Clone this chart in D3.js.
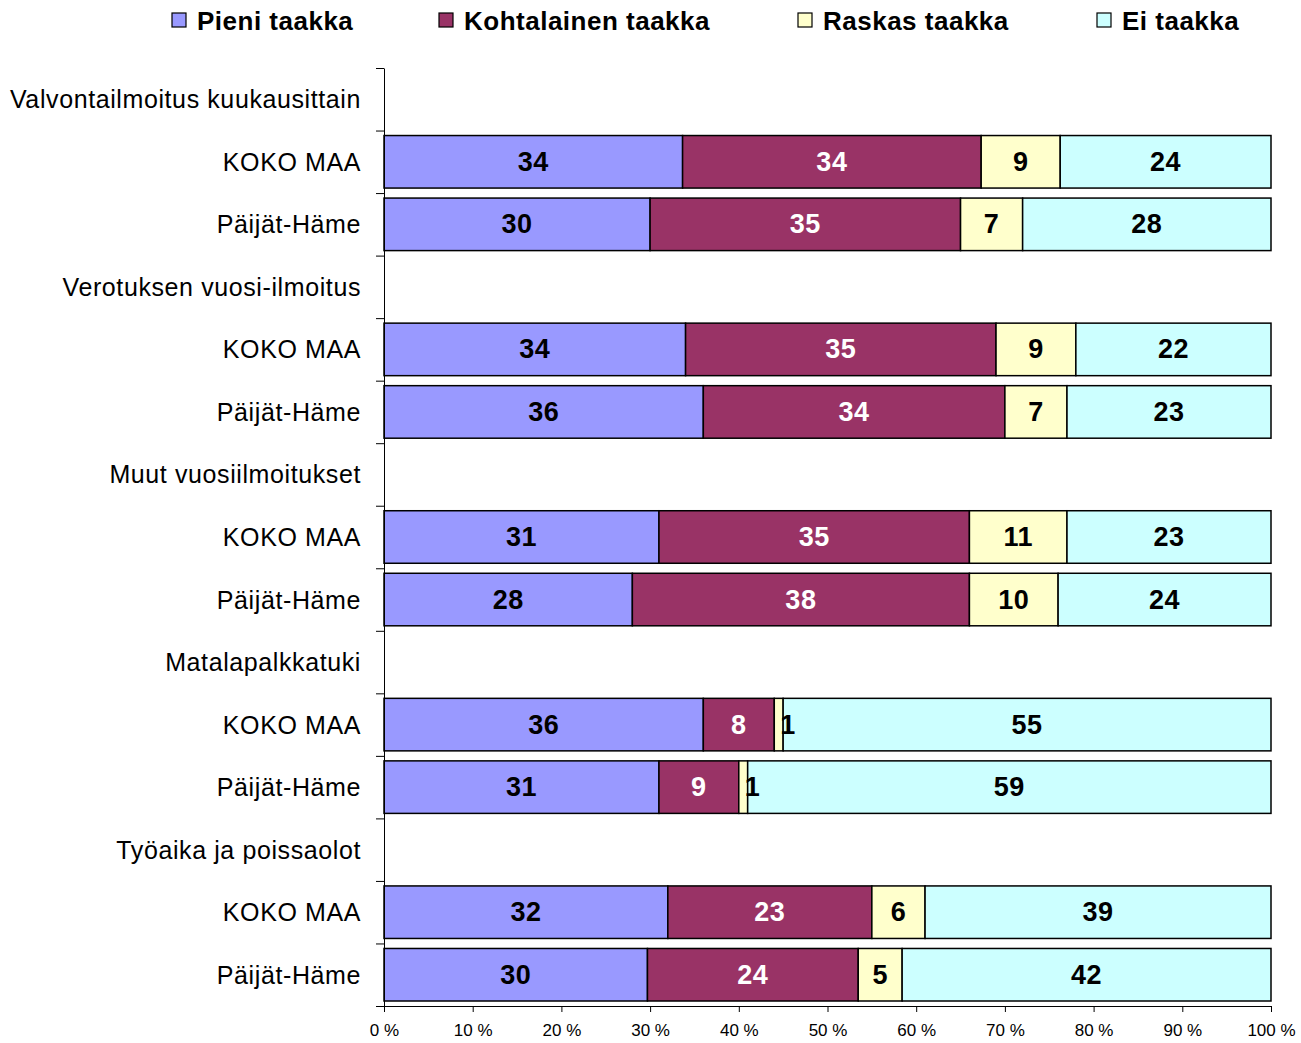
<!DOCTYPE html>
<html>
<head>
<meta charset="utf-8">
<script src="https://cdn.jsdelivr.net/npm/d3@7"></script>
<style>
  body { margin: 0; background: #fff; }
  svg { font-family: "Liberation Sans", Arial, sans-serif; }
</style>
</head>
<body>
<div id="chart"></div>
<script>
// data
var groups = ["Valvontailmoitus kuukausittain", "Verotuksen vuosi-ilmoitus", "Muut vuosiilmoitukset", "Matalapalkkatuki", "Työaika ja poissaolot"];
var regions = ["KOKO MAA", "Päijät-Häme"];
var keys = ["Pieni taakka", "Kohtalainen taakka", "Raskas taakka", "Ei taakka"];
var pieni = [34, 30, 34, 36, 31, 28, 36, 31, 32, 30];
var kohtalainen = [34, 35, 35, 34, 35, 38, 8, 9, 23, 24];
var raskas = [9, 7, 9, 7, 11, 10, 1, 1, 6, 5];
var eiTaakka = [24, 28, 22, 23, 23, 24, 55, 59, 39, 42];
var tickLabels = ["0 %", "10 %", "20 %", "30 %", "40 %", "50 %", "60 %", "70 %", "80 %", "90 %", "100 %"];

var colors = ["#9999FF", "#993366", "#FFFFCC", "#CCFFFF"];
var textColors = ["#000", "#fff", "#000", "#000"];

// one row per header + region
var rows = [];
var bars = [];
groups.forEach(function(g, gi) {
  rows.push({id: "h" + gi, label: g, header: true});
  regions.forEach(function(r, ri) {
    var i = gi * 2 + ri;
    var row = {id: "r" + i, label: r, header: false};
    rows.push(row);
    bars.push({id: row.id, "Pieni taakka": pieni[i], "Kohtalainen taakka": kohtalainen[i], "Raskas taakka": raskas[i], "Ei taakka": eiTaakka[i]});
  });
});

var width = 1301, height = 1043;
var svg = d3.select("#chart").append("svg").attr("width", width).attr("height", height);

var x = d3.scaleLinear().domain([0, 1]).range([384, 1271]);
var y = d3.scaleBand().domain(rows.map(function(d){ return d.id; })).range([68, 1006]).paddingInner(0.16).paddingOuter(0.08);
var yEdge = d3.scaleLinear().domain([0, rows.length]).range([68, 1006]);

var stack = d3.stack().keys(keys).offset(d3.stackOffsetExpand);
var series = stack(bars);

// bars
var layer = svg.selectAll("g.layer").data(series).enter().append("g")
  .attr("class", "layer")
  .attr("fill", function(d, i){ return colors[i]; });

layer.selectAll("rect").data(function(d){ return d; }).enter().append("rect")
  .attr("x", function(d){ return x(d[0]); })
  .attr("y", function(d){ return y(d.data.id); })
  .attr("width", function(d){ return x(d[1]) - x(d[0]); })
  .attr("height", y.bandwidth())
  .attr("stroke", "#000")
  .attr("stroke-width", 1.5);

// value labels (very thin segments get their label pushed past the right edge)
series.forEach(function(s, si) {
  svg.append("g").selectAll("text").data(s).enter().append("text")
    .attr("x", function(d){
      var w = x(d[1]) - x(d[0]);
      return w < 15 ? x(d[1]) - 3 : (x(d[0]) + x(d[1])) / 2;
    })
    .attr("y", function(d){ return y(d.data.id) + y.bandwidth() / 2 + 9; })
    .attr("text-anchor", function(d){ return (x(d[1]) - x(d[0])) < 15 ? "start" : "middle"; })
    .attr("font-size", 27)
    .attr("font-weight", "bold")
    .attr("letter-spacing", 0.5)
    .attr("fill", textColors[si])
    .text(function(d){ return d.data[s.key]; });
});

// category labels
svg.append("g").selectAll("text").data(rows).enter().append("text")
  .attr("x", 361)
  .attr("y", function(d){ return y(d.id) + y.bandwidth() / 2 + 9; })
  .attr("text-anchor", "end")
  .attr("font-size", 25)
  .attr("letter-spacing", 0.6)
  .attr("fill", "#000")
  .text(function(d){ return d.label; });

// left axis, ticks between rows
var leftAxis = d3.axisLeft(yEdge).tickValues(d3.range(0, rows.length + 1)).tickFormat("").tickSize(8).tickSizeOuter(0);
svg.append("g").attr("transform", "translate(384,0)").call(leftAxis)
  .call(function(g){ g.selectAll("line, path").attr("stroke", "#000"); });

// bottom axis
var bottomAxis = d3.axisBottom(x).tickValues(d3.range(0, 11).map(function(d){ return d / 10; }))
  .tickFormat(function(d, i){ return tickLabels[i]; }).tickSize(6).tickSizeOuter(0).tickPadding(12);
var bx = svg.append("g").attr("transform", "translate(0,1006)").call(bottomAxis);
bx.selectAll("line, path").attr("stroke", "#000");
bx.selectAll("text").attr("font-size", 17).attr("font-family", "Liberation Sans, Arial, sans-serif").attr("fill", "#000");

// legend
var legendX = [172, 439, 798, 1097];
var legend = svg.selectAll("g.legend").data(keys).enter().append("g")
  .attr("class", "legend")
  .attr("transform", function(d, i){ return "translate(" + legendX[i] + ",0)"; });
legend.append("rect").attr("x", 0).attr("y", 13).attr("width", 14).attr("height", 14)
  .attr("fill", function(d, i){ return colors[i]; })
  .attr("stroke", "#000").attr("stroke-width", 1.2);
legend.append("text").attr("x", 25).attr("y", 30)
  .attr("font-size", 26).attr("font-weight", "bold").attr("letter-spacing", 0.5)
  .text(function(d){ return d; });
</script>
</body>
</html>
